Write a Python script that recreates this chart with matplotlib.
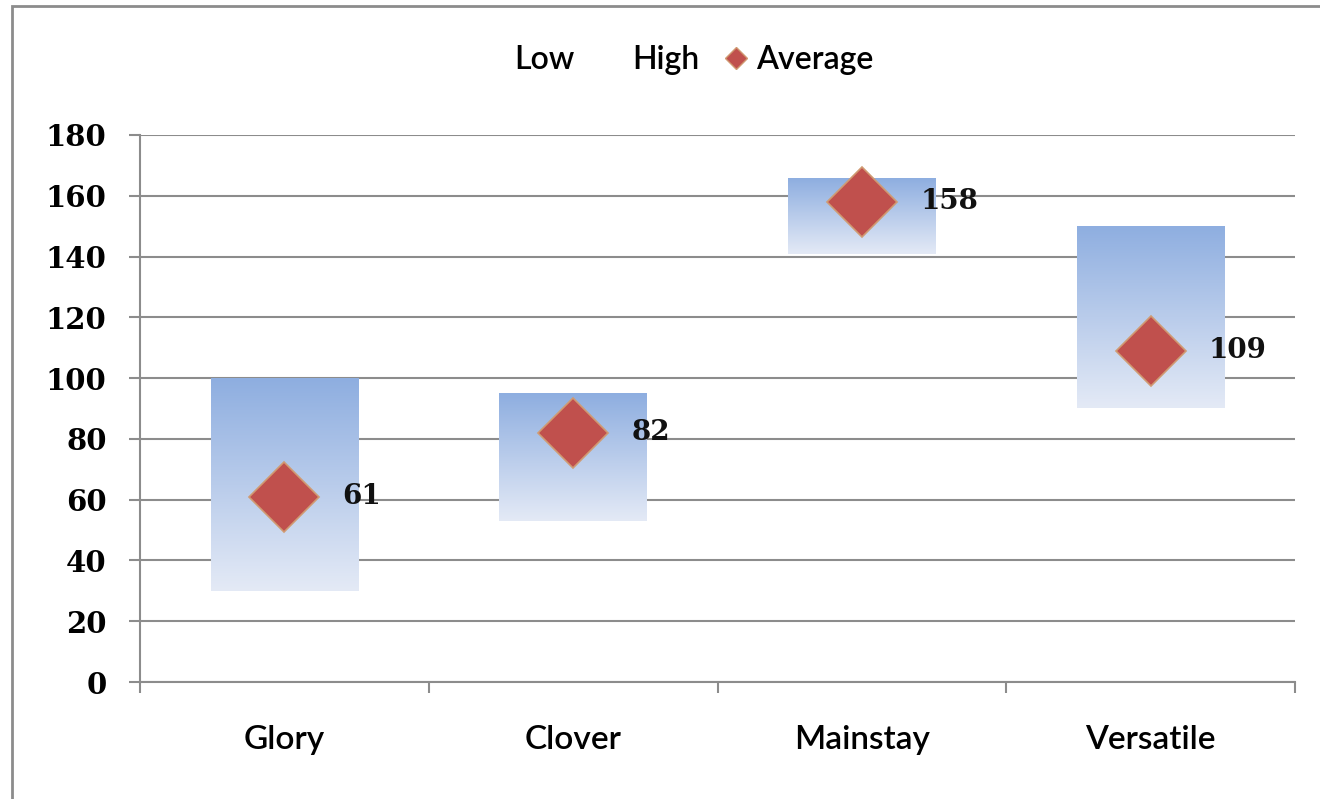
import numpy as np
import matplotlib
matplotlib.use("Agg")
import matplotlib.pyplot as plt
from matplotlib.patches import Patch, Rectangle
from matplotlib.lines import Line2D
from matplotlib.colors import LinearSegmentedColormap

# range per variety plus its average
categories = ["Glory", "Clover", "Mainstay", "Versatile"]
low = [30, 53, 141, 90]
high = [100, 95, 166, 150]
average = [61, 82, 158, 109]

grid_col = "#8c8c8c"
fig = plt.figure(figsize=(13.2, 7.99), dpi=100)
ax = fig.add_axes([140 / 1320, 1 - 682 / 799, 1155 / 1320, 547 / 799])

x = np.arange(len(categories))
span = np.array(high) - np.array(low)

# stacked: invisible "Low" bar underneath, gradient "High" span on top
ax.bar(x, low, width=0.51, color="none", label="Low")
bars = ax.bar(x, span, bottom=low, width=0.51, color="none", label="High")

grad = LinearSegmentedColormap.from_list("blu", ["#e4eaf6", "#8eaee0"])
g = np.linspace(0, 1, 256).reshape(-1, 1)
for b in bars:
    bx, by = b.get_x(), b.get_y()
    im = ax.imshow(g, cmap=grad, origin="lower", aspect="auto",
                   extent=(bx, bx + b.get_width(), by, by + b.get_height()),
                   zorder=2)
    im.set_clip_path(b)

ax.plot(x, average, linestyle="none", marker="D", markersize=36,
        markerfacecolor="#c0504d", markeredgecolor="#d09a72",
        markeredgewidth=1.2, zorder=4)
for xi, v in zip(x, average):
    ax.annotate(str(v), (xi, v), xytext=(42, 0), textcoords="offset points",
                va="center", ha="left", fontsize=20, family="DejaVu Serif",
                fontweight="bold", color="#111111", zorder=5)

ax.set_xlim(-0.5, len(categories) - 0.5)
ax.set_ylim(0, 180)
ax.set_yticks(np.arange(0, 181, 20))
ax.yaxis.grid(True, color=grid_col, linewidth=1.5)
ax.set_axisbelow(True)

ax.set_xticks(x)
ax.set_xticklabels(categories, family="Lato", fontsize=24, fontweight="semibold")
ax.set_xticks(np.arange(-0.5, len(categories), 1), minor=True)
ax.tick_params(axis="x", which="major", length=0, pad=31)
ax.tick_params(axis="x", which="minor", length=8, width=1.5, color=grid_col, direction="out")
ax.tick_params(axis="y", length=8, width=1.5, color=grid_col, direction="out", pad=16)
for lab in ax.get_yticklabels():
    lab.set_family("DejaVu Serif")
    lab.set_fontsize(21)
    lab.set_fontweight("bold")

for s in ["top", "right"]:
    ax.spines[s].set_visible(False)
for s in ["left", "bottom"]:
    ax.spines[s].set_color(grid_col)
    ax.spines[s].set_linewidth(1.5)

handles = [Patch(facecolor="none", edgecolor="none"),
           Patch(facecolor="none", edgecolor="none"),
           Line2D([], [], linestyle="none", marker="D", markersize=11,
                  markerfacecolor="#c0504d", markeredgecolor="#d09a72")]
fig.legend(handles, ["Low", "High", "Average"], loc="center",
           bbox_to_anchor=(0.513, 0.925), ncol=3, frameon=False,
           prop={"family": "Lato", "size": 23, "weight": "semibold"},
           handlelength=0.8, handletextpad=0.25, columnspacing=0.75)

# outer frame of the chart area
fig.patches.append(Rectangle((12 / 1320, -0.05), 1.2, 1 - 6 / 799 + 0.05,
                             transform=fig.transFigure, fill=False,
                             edgecolor="#8c8c8c", linewidth=2))

fig.savefig("out.png", dpi=100)
